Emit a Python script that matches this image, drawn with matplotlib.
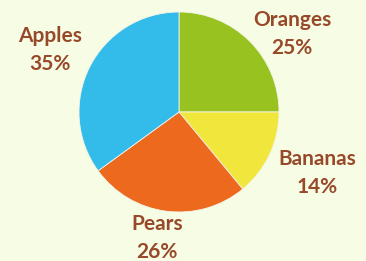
import matplotlib.pyplot as plt

# fruit shares
fruits = ['Oranges', 'Bananas', 'Pears', 'Apples']
shares = [25, 14, 26, 35]
colors = ['#97c21f', '#f0e63c', '#ec691e', '#33bbe9']

# label centres, in pie-radius units (layout only)
label_pos = [(1.13, 0.78), (1.38, -0.61), (-0.22, -1.26), (-1.29, 0.62)]

bg = '#f6fde4'
fig = plt.figure(figsize=(3.66, 2.61), dpi=100, facecolor=bg)
ax = fig.add_axes([0, 0, 1, 1])
ax.set_facecolor(bg)

ax.pie(shares, colors=colors, startangle=90, counterclock=False,
       radius=1.0, wedgeprops=dict(edgecolor='#f4f4e8', linewidth=0.6))

for name, val, (x, y) in zip(fruits, shares, label_pos):
    ax.text(x, y, '{}\n{}%'.format(name, val), ha='center', va='center',
            fontsize=15, fontweight='bold', family='Lato', color='#97492a',
            linespacing=1.55)

ax.set_xlim(-1.79, 1.87)
ax.set_ylim(-1.49, 1.12)
ax.set_aspect('equal')
ax.axis('off')

fig.savefig('out.png', dpi=100, facecolor=bg)
